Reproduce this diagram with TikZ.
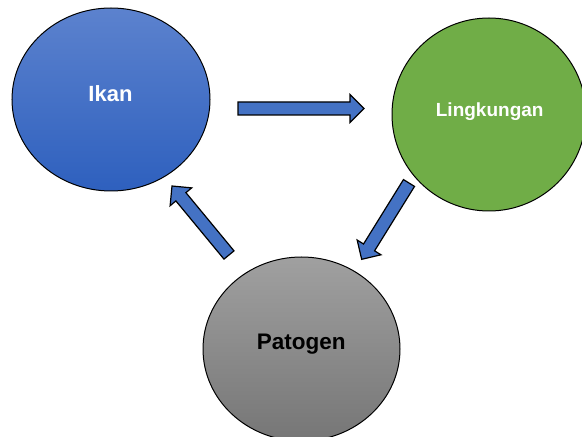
\documentclass[tikz,border=0pt]{standalone}
\usepackage{fontspec}
\setmainfont{Liberation Sans}
\usetikzlibrary{shapes.geometric}
\definecolor{arrowblue}{RGB}{68,114,196}
\definecolor{ikantop}{RGB}{92,130,206}
\definecolor{ikanbot}{RGB}{46,96,190}
\definecolor{lgreen}{RGB}{112,173,71}
\definecolor{gtop}{RGB}{160,160,160}
\definecolor{gbot}{RGB}{118,118,118}
\tikzset{
  blob/.style={ellipse, draw=black, line width=1pt, inner sep=0pt},
  lbl/.style={anchor=base, inner sep=0pt, font=\bfseries},
  barrow/.style={draw=black, line width=1.2pt, fill=arrowblue, line join=miter}
}
% tail coordinate, angle, length
\newcommand\blockarr[3]{%
  \draw[barrow, shift={(#1)}, rotate=#2]
    (0,-6.5) -- (#3-14,-6.5) -- (#3-14,-14) -- (#3,0) -- (#3-14,14)
    -- (#3-14,6.5) -- (0,6.5) -- cycle;}
\begin{document}
\begin{tikzpicture}[x=1pt,y=1pt]
\useasboundingbox (0,0) rectangle (582,437);
\node[blob, minimum width=198pt, minimum height=183pt,
      top color=ikantop, bottom color=ikanbot] (ikan) at (111,337.5) {};
\node[blob, minimum width=194pt, minimum height=193pt,
      fill=lgreen] (ling) at (489,322.5) {};
\node[blob, minimum width=197pt, minimum height=184pt,
      top color=gtop, bottom color=gbot] (pato) at (301.5,88) {};
\node[lbl, font=\bfseries\fontsize{22}{26}\selectfont, text=white] (tikan) at (110.5,335.3) {Ikan};
\node[lbl, font=\bfseries\fontsize{19}{23}\selectfont, text=white] (tling) at (489.7,320.5) {Lingkungan};
\node[lbl, font=\bfseries\fontsize{22.5}{26}\selectfont, text=black] (tpato) at (301.3,87) {Patogen};
\coordinate (a1) at (238,328.5);
\coordinate (a2) at (229,182);
\coordinate (a3) at (409,254);
\blockarr{a1}{0}{126}
\blockarr{a2}{129.56}{89.5}
\blockarr{a3}{238.2}{89.8}
\end{tikzpicture}
\end{document}
